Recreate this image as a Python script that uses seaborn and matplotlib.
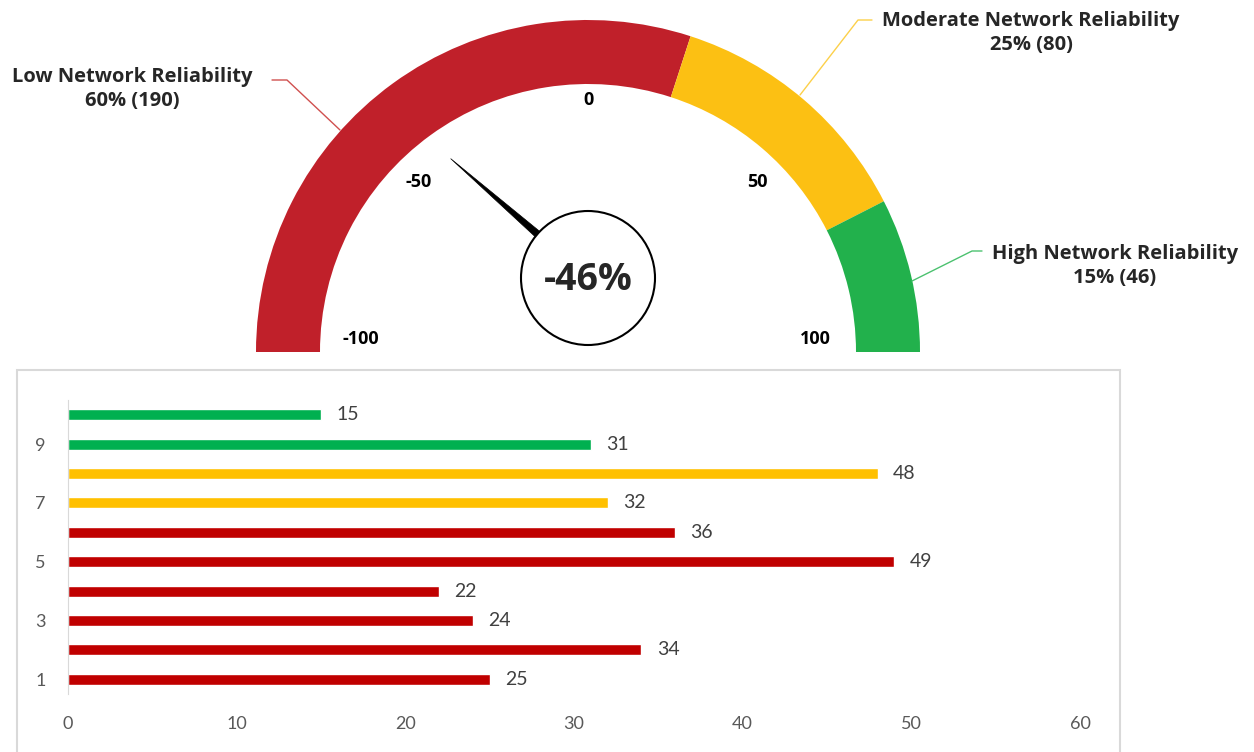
import numpy as np
import pandas as pd
import seaborn as sns
import matplotlib.pyplot as plt
from matplotlib.patches import Wedge, Circle, Polygon, Rectangle

# gauge data
levels = ['Low Network Reliability', 'Moderate Network Reliability', 'High Network Reliability']
shares = [60, 25, 15]
counts = [190, 80, 46]
gauge_colors = ['#C0202A', '#FCC013', '#22B14C']
line_colors = ['#D0504F', '#FCD04A', '#4CC270']
gauge_ticks = [-100, -50, 0, 50, 100]
score = -46

# bar data
categories = ['1', '2', '3', '4', '5', '6', '7', '8', '9', '10']
values = [25, 34, 24, 22, 49, 36, 32, 48, 31, 15]
bar_level = ['Low', 'Low', 'Low', 'Low', 'Low', 'Low', 'Moderate', 'Moderate', 'High', 'High']
bar_palette = {'Low': '#C00000', 'Moderate': '#FFC000', 'High': '#00B050'}

sns.set_style('white')
plt.rcParams['font.family'] = ['Open Sans', 'DejaVu Sans']

W, H = 1254, 752
fig = plt.figure(figsize=(W / 100, H / 100), dpi=100)

# gauge in pixel coordinates (y up)
g = fig.add_axes([0, 0, 1, 1])
g.set_xlim(0, W)
g.set_ylim(0, H)
g.axis('off')

cx, cy = 588, H - 352
r_out, r_w = 332, 64
start = 180
for share, col in zip(shares, gauge_colors):
    end = start - share / 100 * 180
    g.add_patch(Wedge((cx, cy), r_out, end, start, width=r_w, facecolor=col, edgecolor='none'))
    start = end

for t in gauge_ticks:
    ang = np.radians(np.clip(90 - 0.9 * t, 3.3, 176.7))
    rr = 252 - 0.24 * abs(t)
    g.text(cx + rr * np.cos(ang), cy + rr * np.sin(ang), str(t), ha='center', va='center',
           fontsize=13, fontweight='bold', color='black')

# needle + centre circle
ccx, ccy, cr = 588, H - 278, 67
na = np.radians(139)
tip = (ccx + 182 * np.cos(na), ccy + 182 * np.sin(na))
bx, by = ccx + cr * np.cos(na), ccy + cr * np.sin(na)
px, py = -np.sin(na) * 3.5, np.cos(na) * 3.5
g.add_patch(Polygon([tip, (bx + px, by + py), (bx - px, by - py)], closed=True,
                    facecolor='black', edgecolor='black', lw=0.5))
g.add_patch(Circle((ccx, ccy), cr, facecolor='white', edgecolor='black', lw=1.5, zorder=3))
g.text(ccx, ccy - 2, f'{score}%', ha='center', va='center', fontsize=27,
       fontweight='bold', zorder=4)

# segment annotations
ann = [
    (132, 89, [(272, 80), (287, 80), (340, 130)]),
    (1031, 33, [(800, 95), (858, 20), (872, 20)]),
    (1115, 266, [(912, 281), (972, 251), (982, 251)]),
]
for (tx, ty, pts), lvl, sh, n, lc in zip(ann, levels, shares, counts, line_colors):
    xs = [p[0] for p in pts]
    ys = [H - p[1] for p in pts]
    g.plot(xs, ys, color=lc, lw=1)
    g.text(tx, H - ty, f'{lvl}\n{sh}% ({n})', ha='center', va='center', fontsize=14.5,
           fontweight='bold', linespacing=1.28)

# frame around bar chart
g.add_patch(Rectangle((17, -5), 1103, H - 370 + 5, facecolor='white', edgecolor='#D9D9D9', lw=1.5))

# bar chart
df = pd.DataFrame({'category': categories, 'value': values, 'level': bar_level})
ax = fig.add_axes([68 / W, 58 / H, 1012 / W, 294 / H])
ax.set_facecolor('none')
sns.barplot(data=df, x='value', y='category', hue='level', palette=bar_palette,
            order=categories[::-1], dodge=False, width=0.38, legend=False, ax=ax,
            saturation=1)
for c in ax.containers:
    ax.bar_label(c, padding=11, fontsize=14, color='#404040', family='Lato')

ax.set_xlim(0, 60)
ax.set_xticks(range(0, 61, 10))
ylabels = [c if int(c) % 2 == 1 else '' for c in categories[::-1]]
ax.set_yticks(range(len(categories)))
ax.set_yticklabels(ylabels)
ax.set_xlabel('')
ax.set_ylabel('')
for s in ['top', 'right', 'bottom']:
    ax.spines[s].set_visible(False)
ax.spines['left'].set_color('#D9D9D9')
ax.tick_params(axis='both', length=0, labelsize=13, labelcolor='#595959')
ax.tick_params(axis='x', pad=16)
ax.tick_params(axis='y', pad=16)
for lab in ax.get_xticklabels() + ax.get_yticklabels():
    lab.set_family('Lato')

fig.savefig('out.png', dpi=100)
